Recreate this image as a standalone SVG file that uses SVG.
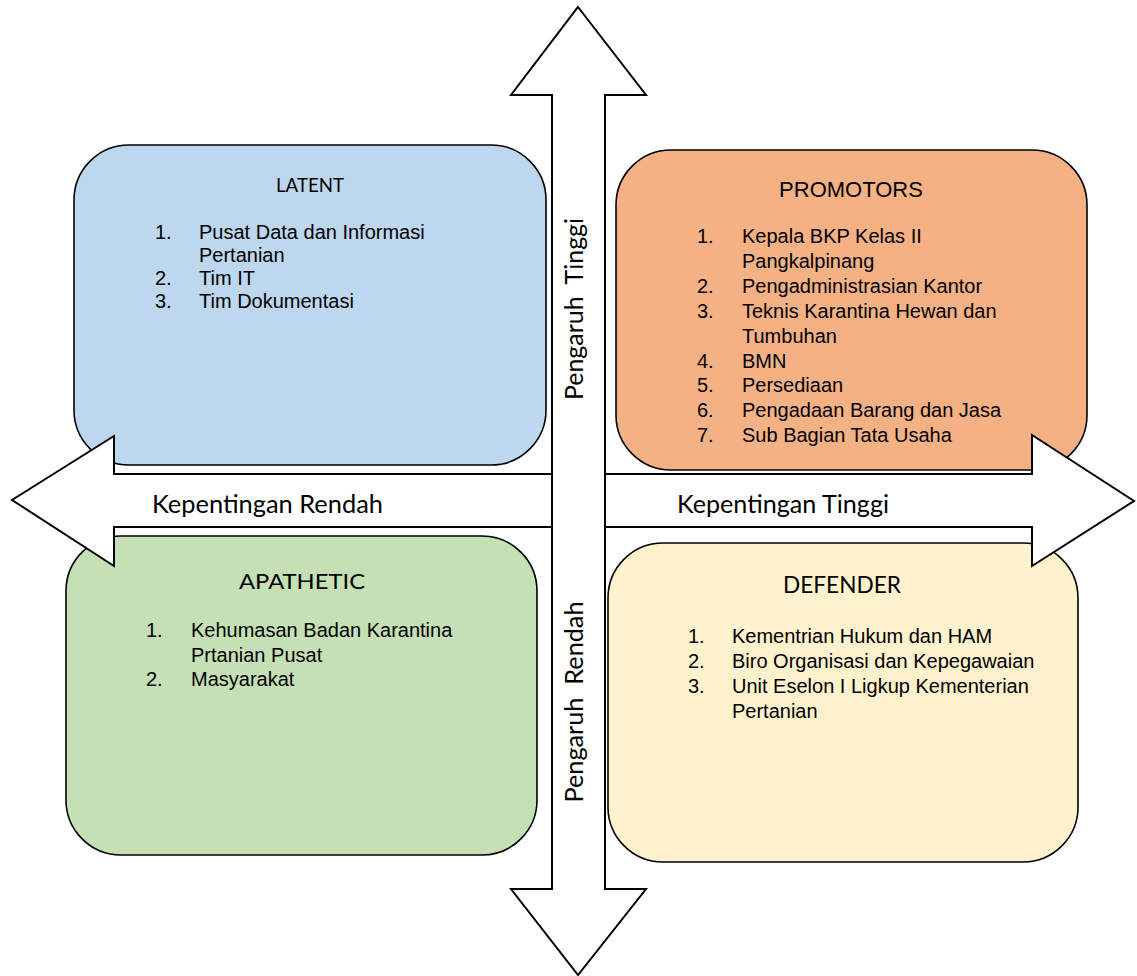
<svg xmlns="http://www.w3.org/2000/svg" width="1137" height="976" viewBox="0 0 1137 976">
<style>
.box{stroke:#000;stroke-width:1.6}
.arrow{fill:#fff;stroke:#000;stroke-width:2;stroke-linejoin:miter}
.cal{font-family:Lato,"Open Sans","Liberation Sans",sans-serif;fill:#000}
.list{font-family:"Liberation Sans",Arial,sans-serif;font-size:20px;fill:#000}
</style>
<rect width="1137" height="976" fill="#fff"/>
<g id="latent">
<rect class="box" x="74" y="145" width="472" height="320" rx="55" ry="55" fill="#BDD7EE"/>
<text class="cal" x="310" y="192" font-size="19.5" text-anchor="middle" textLength="68" lengthAdjust="spacingAndGlyphs">LATENT</text>
<text class="list" x="155" y="239">1.</text><text class="list" x="199" y="239">Pusat Data dan Informasi</text>
<text class="list" x="199" y="262">Pertanian</text>
<text class="list" x="155" y="285">2.</text><text class="list" x="199" y="285">Tim IT</text>
<text class="list" x="155" y="308">3.</text><text class="list" x="199" y="308">Tim Dokumentasi</text>
</g>
<g id="promotors">
<rect class="box" x="616" y="150" width="471" height="320" rx="55" ry="55" fill="#F4B183"/>
<text class="list" x="851" y="197" font-size="22" text-anchor="middle" style="font-size:22px">PROMOTORS</text>
<text class="list" x="697" y="243">1.</text><text class="list" x="742" y="243">Kepala BKP Kelas II</text>
<text class="list" x="742" y="268">Pangkalpinang</text>
<text class="list" x="697" y="293">2.</text><text class="list" x="742" y="293">Pengadministrasian Kantor</text>
<text class="list" x="697" y="318">3.</text><text class="list" x="742" y="318">Teknis Karantina Hewan dan</text>
<text class="list" x="742" y="343">Tumbuhan</text>
<text class="list" x="697" y="368">4.</text><text class="list" x="742" y="368">BMN</text>
<text class="list" x="697" y="392">5.</text><text class="list" x="742" y="392">Persediaan</text>
<text class="list" x="697" y="417">6.</text><text class="list" x="742" y="417">Pengadaan Barang dan Jasa</text>
<text class="list" x="697" y="442">7.</text><text class="list" x="742" y="442">Sub Bagian Tata Usaha</text>
</g>
<g id="apathetic">
<rect class="box" x="66" y="536" width="471" height="319" rx="55" ry="55" fill="#C5E0B4"/>
<text class="cal" x="302" y="589" font-size="22" text-anchor="middle" textLength="126" lengthAdjust="spacingAndGlyphs">APATHETIC</text>
<text class="list" x="146" y="637">1.</text><text class="list" x="191" y="637">Kehumasan Badan Karantina</text>
<text class="list" x="191" y="662">Prtanian Pusat</text>
<text class="list" x="146" y="686">2.</text><text class="list" x="191" y="686">Masyarakat</text>
</g>
<g id="defender">
<rect class="box" x="608" y="543" width="470" height="319" rx="55" ry="55" fill="#FFF2CC"/>
<text class="cal" x="842" y="593" font-size="23" text-anchor="middle" textLength="118" lengthAdjust="spacingAndGlyphs">DEFENDER</text>
<text class="list" x="688" y="643">1.</text><text class="list" x="732" y="643">Kementrian Hukum dan HAM</text>
<text class="list" x="688" y="668">2.</text><text class="list" x="732" y="668">Biro Organisasi dan Kepegawaian</text>
<text class="list" x="688" y="693">3.</text><text class="list" x="732" y="693">Unit Eselon I Ligkup Kementerian</text>
<text class="list" x="732" y="718">Pertanian</text>
</g>
<g id="connectors">
<path id="horizontal-arrow" class="arrow" d="M12,500 L114,436 L114,474 L1032,474 L1032,435 L1134,501 L1032,566 L1032,527 L114,527 L114,566 Z"/>
<path id="vertical-arrow" class="arrow" d="M578,7 L646,95 L605,95 L605,889 L646,889 L578,975 L511,889 L552,889 L552,95 L511,95 Z"/>
</g>
<g id="labels">
<text class="cal" x="152" y="513" font-size="25" textLength="231" lengthAdjust="spacingAndGlyphs">Kepentingan Rendah</text>
<text class="cal" x="677" y="513" font-size="25" textLength="212" lengthAdjust="spacingAndGlyphs">Kepentingan Tinggi</text>
<text class="cal" font-size="25" text-anchor="middle" transform="translate(583,309) rotate(-90)" xml:space="preserve" style="white-space:pre" textLength="182" lengthAdjust="spacingAndGlyphs">Pengaruh  Tinggi</text>
<text class="cal" font-size="25" text-anchor="middle" transform="translate(583,702) rotate(-90)" xml:space="preserve" style="white-space:pre" textLength="201" lengthAdjust="spacingAndGlyphs">Pengaruh  Rendah</text>
</g>
</svg>
